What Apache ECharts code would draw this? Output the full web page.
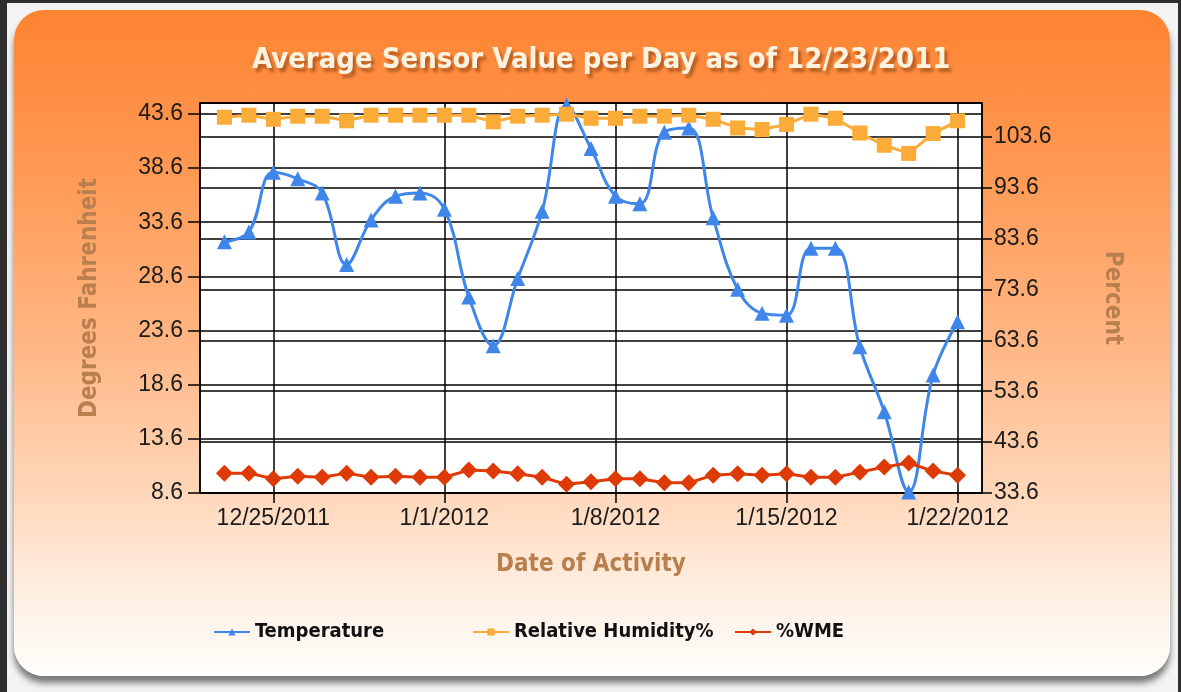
<!DOCTYPE html>
<html>
<head>
<meta charset="utf-8">
<title>Average Sensor Value per Day</title>
<script src="https://cdn.jsdelivr.net/npm/echarts@6/dist/echarts.min.js"></script>
<style>
  html, body { margin: 0; padding: 0; width: 1181px; height: 692px; overflow: hidden; background: #2e2e2e; }
  #frame { position: absolute; left: 7px; top: 3px; width: 1171px; height: 689px; background: #f3f3f3; }
  #panel {
    position: absolute; left: 14px; top: 10px; width: 1156px; height: 666px;
    border-radius: 30px;
    background: linear-gradient(to bottom, #ff8331 0%, #ff9a55 25%, #ffb684 50%, #ffd6b8 72%, #fff0e4 88%, #fffdfb 100%);
    box-shadow: 0 7px 6px rgba(0, 0, 0, 0.5);
  }
  #chart { position: absolute; left: 0; top: 0; width: 1181px; height: 692px; }
</style>
</head>
<body>
<div id="frame"></div>
<div id="panel"></div>
<div id="chart"></div>
<script>
// axis runs one day either side of the readings
const axisDays = [
  '12/22/2011', '12/23/2011', '12/24/2011', '12/25/2011', '12/26/2011', '12/27/2011',
  '12/28/2011', '12/29/2011', '12/30/2011', '12/31/2011', '1/1/2012', '1/2/2012',
  '1/3/2012', '1/4/2012', '1/5/2012', '1/6/2012', '1/7/2012', '1/8/2012', '1/9/2012',
  '1/10/2012', '1/11/2012', '1/12/2012', '1/13/2012', '1/14/2012', '1/15/2012',
  '1/16/2012', '1/17/2012', '1/18/2012', '1/19/2012', '1/20/2012', '1/21/2012',
  '1/22/2012', '1/23/2012'
];
const tickDays = ['12/25/2011', '1/1/2012', '1/8/2012', '1/15/2012', '1/22/2012'];
const days = axisDays.slice(1, 32);

const temperature = [31.8, 32.7, 38.2, 37.6, 36.3, 29.7, 33.8, 36.0, 36.3, 34.8, 26.7,
  22.2, 28.4, 34.6, 44.4, 40.4, 36.0, 35.3, 41.9, 42.3, 34.0, 27.4, 25.2, 25.0, 31.2,
  31.2, 22.1, 16.1, 8.7, 19.5, 24.4];
const humidity = [107.4, 107.8, 107.0, 107.6, 107.6, 106.7, 107.8, 107.8, 107.8, 107.8,
  107.8, 106.5, 107.6, 107.8, 108.0, 107.2, 107.2, 107.6, 107.6, 107.8, 107.0, 105.3,
  105.0, 106.0, 108.0, 107.2, 104.3, 101.9, 100.3, 104.2, 106.7];
const wme = [37.5, 37.5, 36.4, 36.9, 36.7, 37.5, 36.7, 36.9, 36.7, 36.7, 38.1, 37.9,
  37.4, 36.7, 35.3, 35.8, 36.4, 36.4, 35.6, 35.6, 37.1, 37.4, 37.1, 37.4, 36.7, 36.7,
  37.7, 38.7, 39.5, 37.9, 37.1];

const isTick = (i, v) => tickDays.indexOf(v !== undefined ? v : axisDays[i]) >= 0;
const pairs = values => days.map((d, i) => [d, values[i]]);

const labelFont = 'Liberation Sans';
const nameFont = 'DejaVu Sans Condensed';
const nameStyle = { color: '#b97f4e', fontSize: 24, fontWeight: 'bold', fontFamily: nameFont };
const axisText = { color: '#1b1b1b', fontSize: 23, fontFamily: labelFont };
const black = { color: '#000', width: 1.5 };

function legendAt(name, left) {
  return {
    data: [name], left: left, top: 622, padding: 0,
    itemWidth: 36, itemHeight: 9, itemGap: 10,
    textStyle: { color: '#111', fontSize: 20, fontWeight: 'bold', fontFamily: nameFont }
  };
}

const chart = echarts.init(document.getElementById('chart'));
chart.setOption({
  backgroundColor: 'transparent',
  animation: false,
  title: {
    text: 'Average Sensor Value per Day as of 12/23/2011',
    left: 247, top: 41,
    textStyle: {
      color: '#fff2df', fontSize: 29, fontWeight: 'bold', fontFamily: nameFont,
      textShadowColor: 'rgba(90,40,0,0.45)', textShadowBlur: 3,
      textShadowOffsetX: 3, textShadowOffsetY: 4
    }
  },
  legend: [
    legendAt('Temperature', 213),
    legendAt('Relative Humidity%', 472),
    legendAt('%WME', 734)
  ],
  grid: {
    left: 200, top: 103, width: 782, height: 390,
    show: true, backgroundColor: '#fff', borderColor: '#000', borderWidth: 1.5
  },
  xAxis: {
    type: 'category', data: axisDays, boundaryGap: false,
    name: 'Date of Activity', nameLocation: 'middle', nameGap: 60, nameTextStyle: nameStyle,
    axisLine: { lineStyle: black },
    axisTick: { interval: isTick, length: 10, lineStyle: black },
    axisLabel: Object.assign({ interval: isTick, margin: 14 }, axisText),
    splitLine: { show: true, interval: isTick, lineStyle: black }
  },
  yAxis: [
    {
      type: 'value', min: 8.6, max: 44.6, interval: 5,
      name: 'Degrees Fahrenheit', nameLocation: 'middle', nameGap: 98, nameRotate: 90,
      nameTextStyle: nameStyle,
      axisLine: { show: true, lineStyle: black },
      axisTick: { show: true, length: 12, lineStyle: black },
      axisLabel: Object.assign({ margin: 17, showMaxLabel: false, formatter: v => v.toFixed(1) }, axisText),
      splitLine: { lineStyle: black }
    },
    {
      type: 'value', position: 'right', min: 33.6, max: 110.2, interval: 10,
      name: 'Percent', nameLocation: 'middle', nameGap: 118, nameRotate: -90,
      nameTextStyle: nameStyle,
      axisLine: { show: true, lineStyle: black },
      axisTick: { show: true, length: 10, lineStyle: black },
      axisLabel: Object.assign({ margin: 12, showMaxLabel: false, formatter: v => v.toFixed(1) }, axisText),
      splitLine: { lineStyle: black }
    }
  ],
  series: [
    {
      name: 'Temperature', type: 'line', yAxisIndex: 0, data: pairs(temperature),
      smooth: 0.4, symbol: 'triangle', symbolSize: 15, showAllSymbol: true,
      lineStyle: { color: '#3f86ea', width: 3 }, itemStyle: { color: '#3f86ea' }
    },
    {
      name: 'Relative Humidity%', type: 'line', yAxisIndex: 1, data: pairs(humidity),
      symbol: 'rect', symbolSize: 15, showAllSymbol: true,
      lineStyle: { color: '#fbab38', width: 3 }, itemStyle: { color: '#fbab38' }
    },
    {
      name: '%WME', type: 'line', yAxisIndex: 1, data: pairs(wme),
      symbol: 'diamond', symbolSize: 17, showAllSymbol: true,
      lineStyle: { color: '#dd3a05', width: 3 }, itemStyle: { color: '#dd3a05' }
    }
  ]
});
</script>
</body>
</html>
